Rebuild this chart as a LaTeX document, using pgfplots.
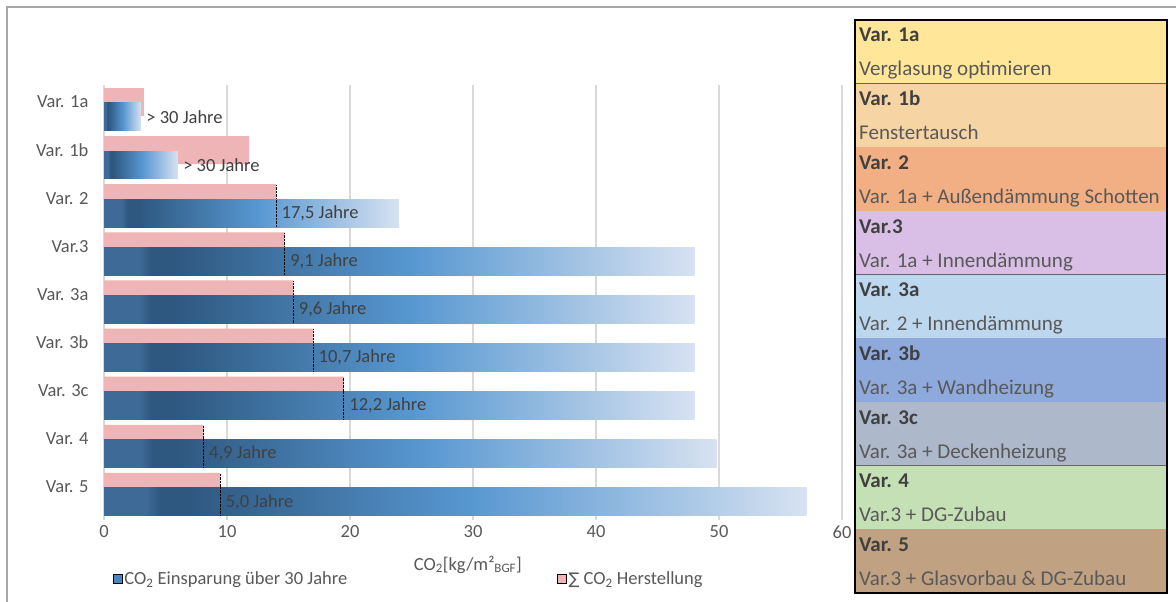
\documentclass[border=0pt]{standalone}
\usepackage{fontspec}
\setmainfont{Carlito}
\newfontfamily\dejavu{DejaVu Sans}
\usepackage{pgfplots}
\pgfplotsset{compat=1.18}

\definecolor{pinkbar}{HTML}{EFB4B5}
\definecolor{bdark0}{HTML}{3D6A96}
\definecolor{bdark1}{HTML}{2E5880}
\definecolor{bmid}{HTML}{5797D1}
\definecolor{blight}{HTML}{D7E2F1}
\definecolor{blegend}{HTML}{4A86C2}
\definecolor{gridgray}{HTML}{D9D9D9}
\definecolor{framegray}{HTML}{A6A6A6}
\definecolor{txtgray}{HTML}{595959}
\definecolor{txtdark}{HTML}{404040}
\definecolor{rowA}{HTML}{FFE699}
\definecolor{rowB}{HTML}{F7D4A3}
\definecolor{rowC}{HTML}{F2AF83}
\definecolor{rowD}{HTML}{D9BFE6}
\definecolor{rowE}{HTML}{BDD7EE}
\definecolor{rowF}{HTML}{8EA9DB}
\definecolor{rowG}{HTML}{ADB9CA}
\definecolor{rowH}{HTML}{C5E0B4}
\definecolor{rowI}{HTML}{C0A182}

% bar box maps to 25bp..75bp of the shading
\pgfdeclarehorizontalshading{bluegrad}{100bp}{color(0bp)=(bdark0); color(25bp)=(bdark0); color(28bp)=(bdark0); color(29bp)=(bdark1); color(31bp)=(bdark1); color(51bp)=(bmid); color(75bp)=(blight); color(100bp)=(blight)}

\pgfplotsset{
  bluebar/.style={forget plot, xbar, bar width=0.58, bar shift=0.31, draw=none, shade, shading=bluegrad},
}

\begin{document}
\begin{tikzpicture}
\useasboundingbox (0,0) rectangle (1176pt,602pt);
\fill[white] (0,0) rectangle (1176pt,602pt);
\draw[framegray, line width=1.6pt] (7pt,0) -- (7pt,595pt) -- (1176pt,595pt);

\begin{axis}[
    at={(104pt,82pt)}, anchor=south west,
    scale only axis, width=738pt, height=435pt,
    xmin=0, xmax=60, ymin=-0.353, ymax=8.69, y dir=reverse,
    xtick={0,10,...,60}, ytick={0,...,8},
    yticklabels={Var. 1a, Var. 1b, Var. 2, Var.3, Var. 3a, Var. 3b, Var. 3c, Var. 4, Var. 5},
    xmajorgrids, major grid style={gridgray, line width=1.3pt},
    axis line style={draw=none}, major tick length=0pt,
    tick label style={font=\fontsize{18.5}{21}\selectfont, text=txtgray},
    /pgf/number format/assume math mode=true,
    yticklabel style={xshift=-12pt},
    xticklabel style={yshift=-2pt},
    xlabel={CO\textsubscript{2}[kg/m²\textsubscript{BGF}]},
    xlabel style={at={(axis description cs:0.493,-0.103)}, anchor=center,
        font=\fontsize{18.5}{21}\selectfont, text=txtgray},
    legend columns=2,
    legend style={at={(axis description cs:0.012,-0.136)}, anchor=west,
        draw=none, fill=none, inner sep=0pt,
        font=\fontsize{18.5}{21}\selectfont, text=txtgray,
        /tikz/every even column/.append style={column sep=208pt}},
    legend image code/.code={\fill[#1] (0pt,-4.5pt) rectangle (9pt,4.5pt);},
    clip=false,
]
% Herstellung
\addplot[forget plot, xbar, bar width=0.58, bar shift=0, fill=pinkbar, draw=none] coordinates {
    (3.25,0) (11.8,1) (14.0,2) (14.7,3) (15.4,4) (17.0,5) (19.5,6) (8.1,7) (9.45,8)
};
% Einsparung ueber 30 Jahre (one plot per bar, so each bar gets its own gradient)
\addplot[bluebar] coordinates {(3.0,0)};
\addplot[bluebar] coordinates {(6.0,1)};
\addplot[bluebar] coordinates {(24.0,2)};
\addplot[bluebar] coordinates {(48.0,3)};
\addplot[bluebar] coordinates {(48.0,4)};
\addplot[bluebar] coordinates {(48.0,5)};
\addplot[bluebar] coordinates {(48.0,6)};
\addplot[bluebar] coordinates {(49.8,7)};
\addplot[bluebar] coordinates {(57.1,8)};
% dotted markers at Herstellung value
\addplot[forget plot, draw=none, mark=none,
    error bars/.cd, y dir=both, y explicit, error mark=none,
    error bar style={draw=black, densely dotted, line width=0.9pt}] coordinates {
    (14.0,2) += (0,0.6) -= (0,0.29)
    (14.7,3) += (0,0.6) -= (0,0.29)
    (15.4,4) += (0,0.6) -= (0,0.29)
    (17.0,5) += (0,0.6) -= (0,0.29)
    (19.5,6) += (0,0.6) -= (0,0.29)
    (8.1,7) += (0,0.6) -= (0,0.29)
    (9.45,8) += (0,0.6) -= (0,0.29)
};
% payback labels
\addplot[forget plot, draw=none, mark=none, nodes near coords, point meta=explicit symbolic,
    nodes near coords style={anchor=west, xshift=2pt, yshift=-15pt,
        font=\fontsize{18.5}{21}\selectfont, text=txtdark}] coordinates {
    (3.0,0) [> 30 Jahre]
    (6.0,1) [> 30 Jahre]
    (14.0,2) [17,5 Jahre]
    (14.7,3) [9,1 Jahre]
    (15.4,4) [9,6 Jahre]
    (17.0,5) [10,7 Jahre]
    (19.5,6) [12,2 Jahre]
    (8.1,7) [4,9 Jahre]
    (9.45,8) [5,0 Jahre]
};
\addlegendimage{fill=blegend}
\addlegendentry{CO\textsubscript{2} Einsparung über 30 Jahre}
\addlegendimage{fill=pinkbar}
\addlegendentry{{\dejavu\fontsize{16}{21}\selectfont ∑} CO\textsubscript{2} Herstellung}
\end{axis}

% variant table
\foreach \i/\c/\t/\d in {
    0/rowA/{Var. 1a}/{Verglasung optimieren},
    1/rowB/{Var. 1b}/{Fenstertausch},
    2/rowC/{Var. 2}/{Var. 1a + Außendämmung Schotten},
    3/rowD/{Var.3}/{Var. 1a + Innendämmung},
    4/rowE/{Var. 3a}/{Var. 2 + Innendämmung},
    5/rowF/{Var. 3b}/{Var. 3a + Wandheizung},
    6/rowG/{Var. 3c}/{Var. 3a + Deckenheizung},
    7/rowH/{Var. 4}/{Var.3 + DG-Zubau},
    8/rowI/{Var. 5}/{Var.3 + Glasvorbau \& DG-Zubau}} {
  \pgfmathsetmacro\rtop{582-63.67*\i}
  \fill[\c] (855pt,\rtop pt) rectangle (1167pt,\rtop pt-63.67pt);
  \draw[txtdark!80, line width=1pt] (855pt,\rtop pt-63.67pt) -- (1167pt,\rtop pt-63.67pt);
  \node[anchor=base west, inner sep=0pt, text=txtdark,
        font=\fontsize{21}{23}\selectfont\bfseries] at (859pt,\rtop pt-22pt) {\t};
  \node[anchor=base west, inner sep=0pt, text=txtgray,
        font=\fontsize{21}{23}\selectfont] at (859pt,\rtop pt-56pt) {\d};
}
\draw[black, line width=1.5pt] (855pt,9pt) rectangle (1167pt,582pt);
\end{tikzpicture}
\end{document}
